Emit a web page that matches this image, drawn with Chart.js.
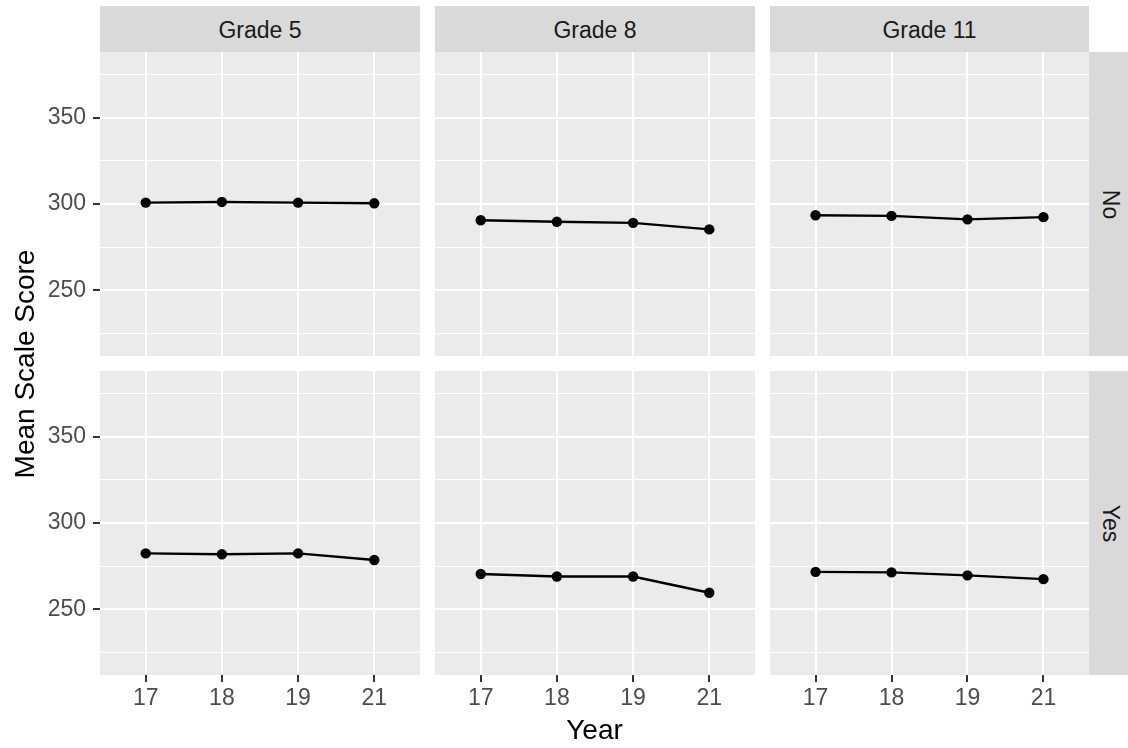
<!DOCTYPE html>
<html>
<head>
<meta charset="utf-8">
<script src="https://cdn.jsdelivr.net/npm/chart.js@4/dist/chart.umd.min.js"></script>
<style>
  html, body { margin:0; padding:0; background:#fff; }
  #wrap { position:relative; width:1128px; height:748px; overflow:hidden; font-family:"Liberation Sans", Arial, sans-serif; }
  canvas { position:absolute; }
  .strip { position:absolute; background:#d9d9d9; color:#1a1a1a; font-size:23px; display:flex; align-items:center; justify-content:center; }
  .txt { position:absolute; white-space:nowrap; text-align:center; }
</style>
</head>
<body>
<div id="wrap"></div>
<script>
// ---- data ----
const years = ['17', '18', '19', '21'];
const grades = ['Grade 5', 'Grade 8', 'Grade 11'];
const groups = ['No', 'Yes'];
const yTicks = [225, 250, 275, 300, 325, 350, 375];
const yMin = 212;
const yMax = 388;
const grade5No  = [300.8, 301.2, 300.8, 300.4];
const grade8No  = [290.6, 289.7, 289.1, 285.3];
const grade11No = [293.5, 293.1, 291.1, 292.4];
const grade5Yes  = [282.4, 281.9, 282.4, 278.6];
const grade8Yes  = [270.5, 269.0, 269.0, 259.6];
const grade11Yes = [271.7, 271.4, 269.7, 267.5];
const yTitle = 'Mean Scale Score';
const xTitle = 'Year';

const seriesGrid = [
  [grade5No, grade8No, grade11No],
  [grade5Yes, grade8Yes, grade11Yes]
];

// ---- layout ----
const wrap = document.getElementById('wrap');
const colLeft = [100, 435, 770];
const colW = [320, 320, 319];
const rowTop = [52, 371];
const rowH = 304;
const yAxisW = 100;
const xAxisH = 50;

Chart.defaults.font.family = '"Liberation Sans", Arial, sans-serif';

const bgPlugin = {
  id: 'panelBg',
  beforeDraw(chart) {
    const a = chart.chartArea, ctx = chart.ctx;
    ctx.save();
    ctx.fillStyle = '#ebebeb';
    ctx.fillRect(a.left, a.top, a.right - a.left, a.bottom - a.top);
    ctx.restore();
  }
};

const isMajor = v => v % 50 === 0;
const noPad = s => { s.paddingTop = 0; s.paddingBottom = 0; s.paddingLeft = 0; s.paddingRight = 0; };

for (let r = 0; r < 2; r++) {
  for (let c = 0; c < 3; c++) {
    const isLeft = c === 0, isBottom = r === 1;
    const cv = document.createElement('canvas');
    const cw = (isLeft ? yAxisW : 0) + colW[c];
    const ch = rowH + (isBottom ? xAxisH : 0);
    cv.width = cw; cv.height = ch;
    cv.style.width = cw + 'px'; cv.style.height = ch + 'px';
    cv.style.left = (isLeft ? colLeft[c] - yAxisW : colLeft[c]) + 'px';
    cv.style.top = rowTop[r] + 'px';
    wrap.appendChild(cv);
    const vals = seriesGrid[r][c];
    new Chart(cv.getContext('2d'), {
      type: 'line',
      data: {
        datasets: [{
          data: vals.map((v, i) => ({ x: i + 1, y: v })),
          borderColor: '#000000',
          backgroundColor: '#000000',
          borderWidth: 2.4,
          pointRadius: 5.2,
          pointBackgroundColor: '#000000',
          pointBorderWidth: 0,
          tension: 0,
          clip: false
        }]
      },
      options: {
        responsive: false,
        animation: false,
        devicePixelRatio: 1,
        layout: { padding: 0, autoPadding: false },
        plugins: { legend: { display: false }, tooltip: { enabled: false }, title: { display: false } },
        scales: {
          x: {
            type: 'linear', min: 0.4, max: 4.6, position: 'bottom',
            afterBuildTicks: s => { s.ticks = years.map((y, i) => ({ value: i + 1 })); },
            afterFit: s => { s.height = isBottom ? xAxisH : 0; noPad(s); },
            ticks: {
              display: isBottom, autoSkip: false, maxRotation: 0, padding: 3,
              color: '#4d4d4d', font: { size: 23 },
              callback: v => years[Math.round(v) - 1]
            },
            grid: { color: '#ffffff', lineWidth: 2, drawTicks: isBottom, tickLength: 7, tickColor: '#333333', tickWidth: 2 },
            border: { display: false }
          },
          y: {
            type: 'linear', min: yMin, max: yMax, position: 'left',
            afterBuildTicks: s => { s.ticks = yTicks.map(v => ({ value: v })); },
            afterFit: s => { s.width = isLeft ? yAxisW : 0; noPad(s); },
            ticks: {
              display: isLeft, padding: 7,
              color: '#4d4d4d', font: { size: 23 },
              callback: v => isMajor(v) ? String(v) : ''
            },
            grid: {
              color: '#ffffff',
              lineWidth: ctx => (ctx.tick && isMajor(ctx.tick.value)) ? 2 : 1,
              drawTicks: isLeft, tickLength: 7, tickWidth: 2,
              tickColor: ctx => (ctx.tick && isMajor(ctx.tick.value)) ? '#333333' : 'rgba(0,0,0,0)'
            },
            border: { display: false }
          }
        }
      },
      plugins: [bgPlugin]
    });
  }
}

// ---- strips ----
for (let c = 0; c < 3; c++) {
  const s = document.createElement('div');
  s.className = 'strip';
  s.style.left = colLeft[c] + 'px';
  s.style.top = '6px';
  s.style.width = colW[c] + 'px';
  s.style.height = '46px';
  s.innerHTML = '<span style="position:relative;top:1px">' + grades[c] + '</span>';
  wrap.appendChild(s);
}
for (let r = 0; r < 2; r++) {
  const s = document.createElement('div');
  s.className = 'strip';
  s.style.left = '1089px';
  s.style.top = rowTop[r] + 'px';
  s.style.width = '39px';
  s.style.height = rowH + 'px';
  s.innerHTML = '<span style="display:inline-block;transform:translateX(2px) rotate(90deg)">' + groups[r] + '</span>';
  wrap.appendChild(s);
}

// ---- axis titles ----
const xt = document.createElement('div');
xt.className = 'txt';
xt.style.left = '100px'; xt.style.width = '989px';
xt.style.top = '716px'; xt.style.fontSize = '28px'; xt.style.lineHeight = '28px'; xt.style.color = '#000';
xt.textContent = xTitle;
wrap.appendChild(xt);

const yt = document.createElement('div');
yt.className = 'txt';
yt.style.width = '600px'; yt.style.height = '28px';
yt.style.left = (25.3 - 300) + 'px'; yt.style.top = (363.5 - 14) + 'px';
yt.style.fontSize = '28px'; yt.style.lineHeight = '28px'; yt.style.color = '#000';
yt.style.transform = 'rotate(-90deg)';
yt.textContent = yTitle;
wrap.appendChild(yt);
</script>
</body>
</html>
